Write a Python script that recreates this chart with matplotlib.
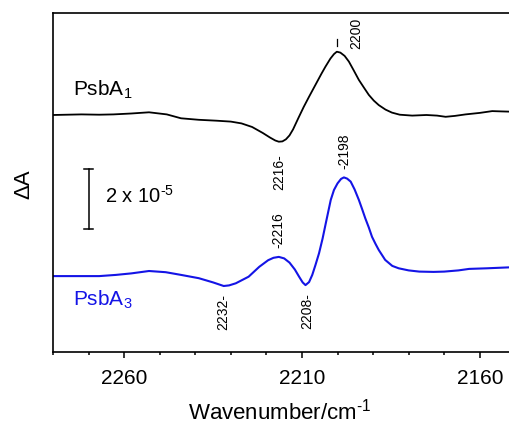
import matplotlib
matplotlib.use("Agg")
import matplotlib.pyplot as plt

plt.rcParams['font.family'] = ['Liberation Sans', 'DejaVu Sans']
plt.rcParams['mathtext.fontset'] = 'custom'
plt.rcParams['mathtext.rm'] = 'Liberation Sans'
plt.rcParams['mathtext.it'] = 'Liberation Sans'
plt.rcParams['mathtext.default'] = 'rm'

# Wavenumbers (cm^-1) and displayed ΔA (units of 1e-5, vertically offset traces)
wn_a1 = [2280, 2276, 2272, 2267, 2263, 2258, 2253, 2248, 2244, 2239, 2234, 2230, 2227,
         2224, 2221, 2219, 2217.5, 2216.5, 2215.5, 2214.5, 2213.5, 2212.5, 2211, 2209.5, 2208,
         2206, 2204.5, 2203.4, 2202, 2201, 2200.2, 2199.2, 2198, 2196.8, 2195.5, 2194,
         2192.5, 2191.2, 2189.8, 2188.4, 2186.5, 2184.7, 2182.5, 2179, 2175, 2172,
         2169.6, 2167, 2164, 2160, 2156.5, 2154, 2151]
da_a1 = [7.90, 7.91, 7.92, 7.91, 7.92, 7.95, 7.99, 7.92, 7.79, 7.74, 7.71, 7.68, 7.62,
         7.50, 7.30, 7.15, 7.05, 7.01, 7.02, 7.09, 7.22, 7.42, 7.80, 8.17, 8.51,
         8.95, 9.28, 9.51, 9.78, 9.93, 10.01, 9.98, 9.87, 9.68, 9.40, 9.07,
         8.80, 8.57, 8.38, 8.23, 8.08, 7.98, 7.91, 7.88, 7.90, 7.88,
         7.84, 7.87, 7.92, 7.97, 8.03, 8.02, 8.01]

wn_a3 = [2280, 2276.4, 2271, 2267, 2262.3, 2258, 2253, 2248.3, 2244, 2239, 2235, 2232,
         2230.5, 2228.6, 2225, 2222, 2219.5, 2218, 2216.5, 2215, 2213.5, 2212, 2210.8,
         2209.8, 2209, 2208, 2207.1, 2206.2, 2205.2, 2204.2, 2203.3, 2201.9, 2201, 2200,
         2199, 2198.2, 2197.3, 2196.3, 2195.2, 2194, 2193.1, 2192.2, 2191.2, 2190.3,
         2189.3, 2188.4, 2186.6, 2184.6, 2182.8, 2180, 2177, 2173, 2170, 2166, 2163,
         2158, 2152]
da_a3 = [2.53, 2.53, 2.53, 2.53, 2.57, 2.62, 2.70, 2.66, 2.57, 2.46, 2.32, 2.20,
         2.22, 2.29, 2.51, 2.84, 3.06, 3.14, 3.17, 3.12, 2.98, 2.75, 2.51,
         2.32, 2.23, 2.33, 2.57, 2.90, 3.29, 3.78, 4.29, 5.07, 5.40, 5.62,
         5.77, 5.82, 5.78, 5.68, 5.42, 5.07, 4.77, 4.46, 4.15, 3.84,
         3.60, 3.40, 3.07, 2.87, 2.79, 2.72, 2.68, 2.67, 2.68, 2.72, 2.77,
         2.79, 2.82]

xticks_major = [2260, 2210, 2160]
xticks_minor = [2280, 2270, 2250, 2240, 2230, 2220, 2200, 2190, 2180, 2170]

fig = plt.figure(figsize=(5.10, 4.24), dpi=100)
ax = fig.add_axes([53/510, (424-352)/424, 1 - 53/510, (352-13)/424])

ax.plot(wn_a1, da_a1, color='black', lw=1.3, solid_joinstyle='round')
ax.plot(wn_a3, da_a3, color='#1414e6', lw=1.5, solid_joinstyle='round')

ax.set_xlim(2280, 2151.5)
ax.set_ylim(0, 11.3)
ax.set_yticks([])
ax.set_xticks(xticks_major)
ax.set_xticks(xticks_minor, minor=True)
ax.tick_params(axis='x', which='major', direction='out', length=4, width=1.1,
               labelsize=15, pad=8)
ax.tick_params(axis='x', which='minor', direction='out', length=2.5, width=1.1)
ax.spines['right'].set_visible(False)
for s in ['left', 'top', 'bottom']:
    ax.spines[s].set_linewidth(1.2)

# Trace labels
ax.text(2274.5, 8.75, 'PsbA$_1$', fontsize=15, color='black', va='center', ha='left')
ax.text(2274.5, 1.75, 'PsbA$_3$', fontsize=15, color='#1414e6', va='center', ha='left')

# Scale bar 2 x 10^-5
ax.plot([2270, 2270], [4.1, 6.1], color='black', lw=1.1)
ax.plot([2271.2, 2268.8], [6.1, 6.1], color='black', lw=1.1)
ax.plot([2271.2, 2268.8], [4.1, 4.1], color='black', lw=1.1)
ax.text(2265.5, 5.2, '2 x 10$^{\u2010 5}$', fontsize=14.5, va='center', ha='left')

# Peak annotations
ann = 10
ax.plot([2200.2, 2200.2], [10.2, 10.42], color='black', lw=0.9)
ax.text(2194.8, 11.15, '2200', rotation=90, fontsize=ann, ha='center', va='top')
ax.text(2216.5, 6.6, '2216-', rotation=90, fontsize=ann, ha='center', va='top')
ax.text(2198.2, 6.1, '-2198', rotation=90, fontsize=ann, ha='center', va='bottom')
ax.text(2216.5, 3.45, '-2216', rotation=90, fontsize=ann, ha='center', va='bottom')
ax.text(2208.5, 1.95, '2208-', rotation=90, fontsize=ann, ha='center', va='top')
ax.text(2232.2, 1.95, '2232-', rotation=90, fontsize=ann, ha='center', va='top')

fig.text(24/510, 1 - 184/424, 'ΔA', rotation=90, fontsize=16, ha='center', va='center')
fig.text(280/510, 1 - 412/424, 'Wavenumber/cm$^{\u2010 1}$', fontsize=16,
         ha='center', va='center')

fig.savefig('out.png', dpi=100)
